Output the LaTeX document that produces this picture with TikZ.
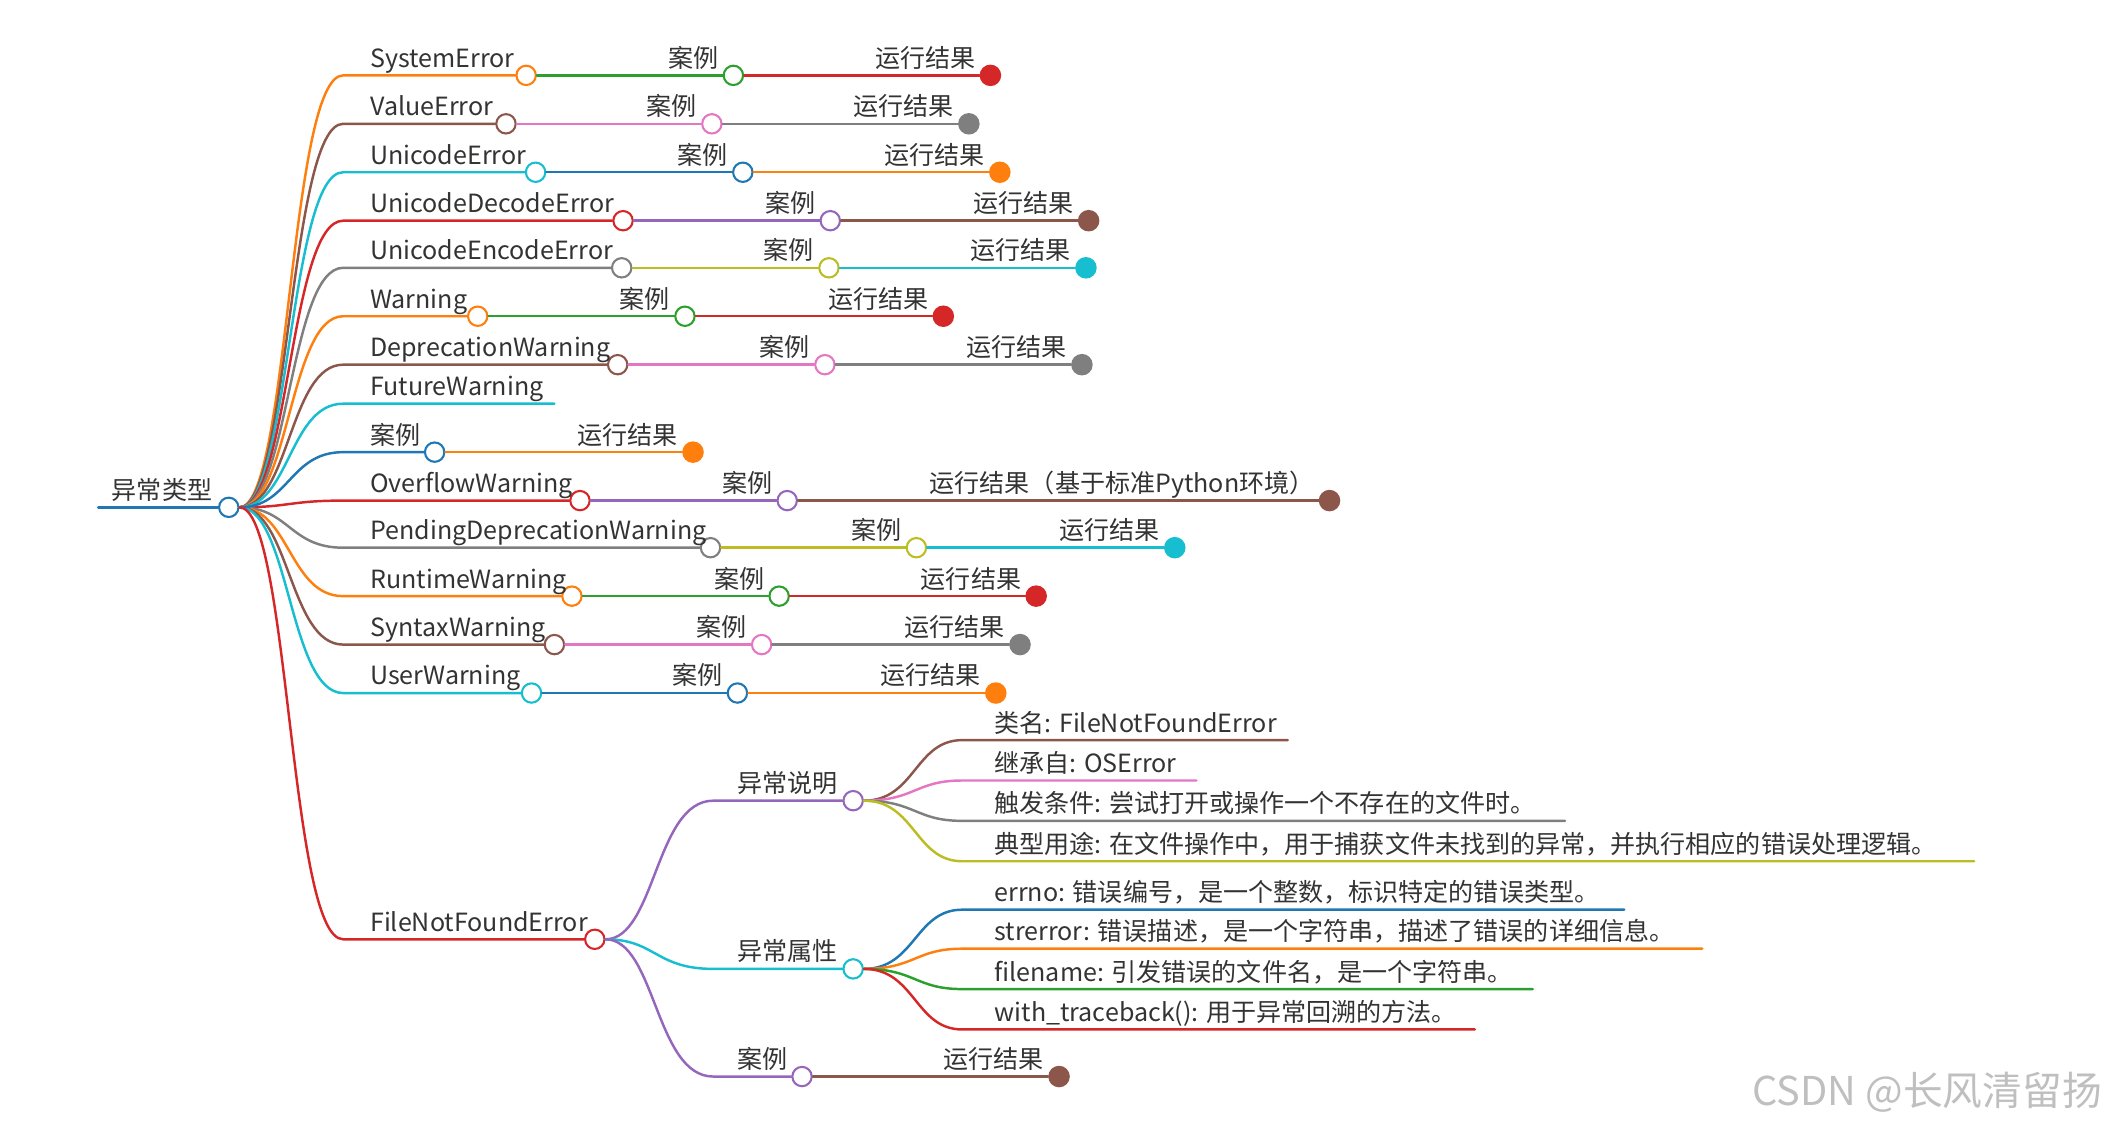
\documentclass[tikz,border=0pt]{standalone}
\usepackage{fontspec}
\setmainfont{Noto Sans CJK SC}
\usetikzlibrary{positioning}
\definecolor{cblue}{HTML}{1F77B4}
\definecolor{corange}{HTML}{FF7F0E}
\definecolor{cgreen}{HTML}{2CA02C}
\definecolor{cred}{HTML}{D62728}
\definecolor{cpurple}{HTML}{9467BD}
\definecolor{cbrown}{HTML}{8C564B}
\definecolor{cpink}{HTML}{E377C2}
\definecolor{cgray}{HTML}{7F7F7F}
\definecolor{colive}{HTML}{BCBD22}
\definecolor{ccyan}{HTML}{17BECF}
\tikzset{
  x=0.05cm, y=-0.05cm,
  branch/.style={line width=2.6pt, line cap=round},
  hollow/.style={circle, draw, fill=white, line width=2.2pt, minimum size=0.72cm, inner sep=0pt},
  dot/.style={circle, fill, minimum size=0.8cm, inner sep=0pt},
  lbl/.style={font=\fontsize{26.5}{30}\selectfont, text=black!80, inner sep=0pt},
}
\begin{document}
\begin{tikzpicture}
  \useasboundingbox (0,0) rectangle (1568,840);
  % root
  \coordinate (rootL) at (73,377);
  \node[hollow, draw=cblue] (root) at (170,377) {};
  \draw[branch, cblue] (rootL) -- (root);
  \node[lbl, anchor=base west] (troot) at (83,371) {异常类型};
  % error rows: y / text / x1 / colour1 / x2 / colour2 / x3 / colour3
  \foreach \y/\txt/\xa/\ca/\xb/\cb/\xc/\cc/\res [count=\i] in {
      56/SystemError/391/corange/545/cgreen/736/cred/运行结果,
      92/ValueError/376/cbrown/529/cpink/720/cgray/运行结果,
      128/UnicodeError/398/ccyan/552/cblue/743/corange/运行结果,
      164/UnicodeDecodeError/463/cred/617/cpurple/809/cbrown/运行结果,
      199/UnicodeEncodeError/462/cgray/616/colive/807/ccyan/运行结果,
      235/Warning/355/corange/509/cgreen/701/cred/运行结果,
      271/DeprecationWarning/459/cbrown/613/cpink/804/cgray/运行结果,
      372/OverflowWarning/431/cred/585/cpurple/988/cbrown/运行结果（基于标准Python环境）,
      407/PendingDeprecationWarning/528/cgray/681/colive/873/ccyan/运行结果,
      443/RuntimeWarning/425/corange/579/cgreen/770/cred/运行结果,
      479/SyntaxWarning/412/cbrown/566/cpink/758/cgray/运行结果,
      515/UserWarning/395/ccyan/548/cblue/740/corange/运行结果} {
    \node[hollow, draw=\ca] (a\i) at (\xa,\y) {};
    \node[hollow, draw=\cb] (b\i) at (\xb,\y) {};
    \node[dot, fill=\cc] (c\i) at (\xc,\y) {};
    \draw[branch, \ca] (root.east) .. controls (215,377) and (215,\y) .. (255,\y) -- (a\i);
    \draw[branch, \cb] (a\i) -- (b\i);
    \draw[branch, \cc] (b\i) -- (c\i);
    \node[lbl, anchor=base west] (ta\i) at (275,\y-6) {\txt};
    \node[lbl, anchor=base east] (tb\i) at (\xb-11,\y-6) {案例};
    \node[lbl, anchor=base east] (tc\i) at (\xc-11,\y-6) {\res};
  }
  % FutureWarning
  \coordinate (fwE) at (412,300);
  \draw[branch, ccyan] (root.east) .. controls (215,377) and (215,300) .. (255,300) -- (fwE);
  \node[lbl, anchor=base west] (tfw) at (275,294) {FutureWarning};
  % example row
  \node[hollow, draw=cblue] (exA) at (323,336) {};
  \node[dot, fill=corange] (exB) at (515,336) {};
  \draw[branch, cblue] (root.east) .. controls (215,377) and (215,336) .. (255,336) -- (exA);
  \draw[branch, corange] (exA) -- (exB);
  \node[lbl, anchor=base west] (texA) at (275,330) {案例};
  \node[lbl, anchor=base east] (texB) at (504,330) {运行结果};
  % FileNotFoundError
  \node[hollow, draw=cred] (fnf) at (442,698) {};
  \draw[branch, cred] (root.east) .. controls (215,377) and (215,698) .. (255,698) -- (fnf);
  \node[lbl, anchor=base west] (tfnf) at (275,692) {FileNotFoundError};
  \node[hollow, draw=cpurple] (desc) at (634,595) {};
  \node[hollow, draw=ccyan] (attr) at (634,720) {};
  \node[hollow, draw=cpurple] (fex) at (596,800) {};
  \node[dot, fill=cbrown] (fres) at (787,800) {};
  \draw[branch, cpurple] (fnf.east) .. controls (487,698) and (487,595) .. (530,595) -- (desc);
  \draw[branch, ccyan] (fnf.east) .. controls (487,698) and (487,720) .. (530,720) -- (attr);
  \draw[branch, cpurple] (fnf.east) .. controls (487,698) and (487,800) .. (530,800) -- (fex);
  \draw[branch, cbrown] (fex) -- (fres);
  \node[lbl, anchor=base west] (tdesc) at (548,589) {异常说明};
  \node[lbl, anchor=base west] (tattr) at (548,714) {异常属性};
  \node[lbl, anchor=base west] (tfex) at (548,794) {案例};
  \node[lbl, anchor=base east] (tfres) at (776,794) {运行结果};
  % leaves
  \foreach \p/\py/\y/\xe/\cl/\txt [count=\j] in {
      desc/595/550/957/cbrown/类名: FileNotFoundError,
      desc/595/580/889/cpink/继承自: OSError,
      desc/595/610/1163/cgray/触发条件: 尝试打开或操作一个不存在的文件时。,
      desc/595/640/1467/colive/典型用途: 在文件操作中，用于捕获文件未找到的异常，并执行相应的错误处理逻辑。,
      attr/720/676/1207/cblue/errno: 错误编号，是一个整数，标识特定的错误类型。,
      attr/720/705/1265/corange/strerror: 错误描述，是一个字符串，描述了错误的详细信息。,
      attr/720/735/1139/cgreen/filename: 引发错误的文件名，是一个字符串。,
      attr/720/765/1096/cred/with\_traceback(): 用于异常回溯的方法。} {
    \coordinate (leaf\j) at (\xe,\y);
    \draw[branch, \cl] (\p.east) .. controls (680,\py) and (680,\y) .. (715,\y) -- (leaf\j);
    \node[lbl, anchor=base west] (tl\j) at (739,\y-6) {\txt};
  }
  \node[font=\fontsize{42}{44}\selectfont, text=black!25, anchor=east, inner sep=0pt] (mark) at (1562,812) {CSDN @长风清留扬};
\end{tikzpicture}
\end{document}
